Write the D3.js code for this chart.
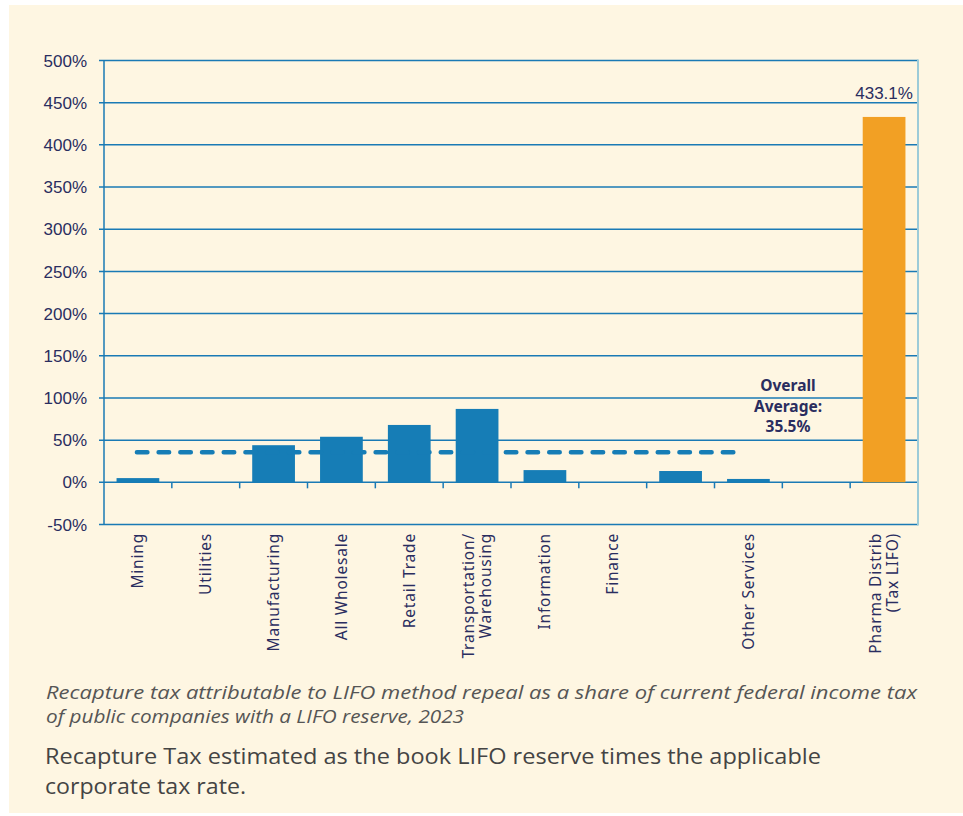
<!DOCTYPE html>
<meta charset="utf-8">
<style>
    body { margin: 0; background: #fff; }
    .grid line { stroke: #1a7ab5; stroke-width: 1.5px; }
    .xlab { font-family: "Noto Sans", sans-serif; font-size: 15.5px; fill: #2a2d5f; }
</style>

<svg width="963" height="816"></svg>

<script src="https://cdn.jsdelivr.net/npm/d3@7/dist/d3.min.js"></script>
<script>
    // bands in order; two bands carry no label in the original
    var categories = ["Mining", "Utilities", "Manufacturing", "All Wholesale", "Retail Trade",
        "Transportation/\nWarehousing", "Information", "Finance", "", "Other Services", "", "Pharma Distrib\n(Tax LIFO)"];
    var values = [5, 0, 44, 54, 68, 87, 14.5, 0, 13.4, 4, 0, 433.1];
    var yTicks = [-50, 0, 50, 100, 150, 200, 250, 300, 350, 400, 450, 500];
    var average = 35.5;
    var avgLabel = ["Overall", "Average:", "35.5%"];
    var caption = ["Recapture tax attributable to LIFO method repeal as a share of current federal income tax",
        "of public companies with a LIFO reserve, 2023"];
    var note = ["Recapture Tax estimated as the book LIFO reserve times the applicable",
        "corporate tax rate."];

    (function () {
        var svg = d3.select("svg"),
            left = 104, right = 918, top = 60.5, bottom = 524.5;

        svg.append("rect")
            .attr("x", 9).attr("y", 5)
            .attr("width", 954).attr("height", 808)
            .attr("fill", "#fef6e2");

        var x = d3.scaleBand()
            .domain(d3.range(categories.length))
            .range([left, right])
            .paddingInner(0.37)
            .paddingOuter(0.185);

        var y = d3.scaleLinear()
            .domain([-50, 500])
            .range([bottom, top]);

        // gridlines + left ticks
        var grid = svg.append("g").attr("class", "grid");
        grid.selectAll("line")
            .data(yTicks)
            .enter()
            .append("line")
            .attr("x1", left - 5)
            .attr("x2", right)
            .attr("y1", function (d) { return y(d); })
            .attr("y2", function (d) { return y(d); });

        grid.append("line")
            .attr("x1", left).attr("x2", left)
            .attr("y1", top).attr("y2", bottom);

        svg.append("line")
            .attr("x1", right).attr("x2", right)
            .attr("y1", top - 1).attr("y2", bottom + 1)
            .attr("stroke", "#9ccbd8")
            .attr("stroke-width", 2);

        svg.append("g")
            .selectAll("text")
            .data(yTicks)
            .enter()
            .append("text")
            .attr("x", 87)
            .attr("y", function (d) { return y(d); })
            .attr("dy", "0.36em")
            .attr("text-anchor", "end")
            .style("font-family", "'Liberation Sans', Arial, sans-serif")
            .style("font-size", "17px")
            .style("fill", "#2a2d5f")
            .text(function (d) { return d + "%"; });

        // category boundary ticks under the 0 line
        var step = x.step();
        svg.append("g")
            .selectAll("line")
            .data(d3.range(1, categories.length))
            .enter()
            .append("line")
            .attr("x1", function (d) { return left + d * step; })
            .attr("x2", function (d) { return left + d * step; })
            .attr("y1", y(0))
            .attr("y2", y(0) + 6)
            .attr("stroke", "#1a7ab5")
            .attr("stroke-width", 1.5);

        // bars
        svg.append("g")
            .selectAll("rect")
            .data(values)
            .enter()
            .append("rect")
            .attr("x", function (d, i) { return x(i); })
            .attr("width", x.bandwidth())
            .attr("y", function (d) { return y(d); })
            .attr("height", function (d) { return y(0) - y(d); })
            .attr("fill", function (d, i) { return i === values.length - 1 ? "#f2a024" : "#167db6"; });

        // value label on the pharma bar
        var last = values.length - 1;
        svg.append("text")
            .attr("x", x(last) + x.bandwidth() / 2)
            .attr("y", y(values[last]) - 18)
            .attr("text-anchor", "middle")
            .style("font-family", "'Liberation Sans', Arial, sans-serif")
            .style("font-size", "17px")
            .style("fill", "#2a2d5f")
            .text(values[last] + "%");

        // average dashed line
        svg.append("line")
            .attr("x1", x(0) + x.bandwidth() / 2 - 1)
            .attr("x2", x(9) + x.bandwidth() / 2 - 5)
            .attr("y1", y(average))
            .attr("y2", y(average))
            .attr("stroke", "#167db6")
            .attr("stroke-width", 4.5)
            .attr("stroke-linecap", "round")
            .attr("stroke-dasharray", "10.5 11.2");

        var ann = svg.append("text")
            .attr("text-anchor", "middle")
            .style("font-family", "'Noto Sans', sans-serif")
            .style("font-weight", "bold")
            .style("font-size", "15.5px")
            .style("fill", "#2a2d5f");
        ann.selectAll("tspan")
            .data(avgLabel)
            .enter()
            .append("tspan")
            .attr("x", 788)
            .attr("y", function (d, i) { return 391 + i * 20.5; })
            .text(function (d) { return d; });

        // rotated category labels
        var labels = svg.append("g")
            .selectAll("text")
            .data(categories)
            .enter()
            .append("text")
            .attr("class", "xlab")
            .attr("text-anchor", "end")
            .style("letter-spacing", "0.8px")
            .attr("transform", function (d, i) {
                return "translate(" + (x(i) + x.bandwidth() / 2) + "," + 533 + ") rotate(-90)";
            });
        labels.each(function (d) {
            var lines = d.split("\n"),
                t = d3.select(this);
            lines.forEach(function (s, j) {
                t.append("tspan")
                    .attr("x", 0)
                    .attr("y", (j - (lines.length - 1) / 2) * 17.5)
                    .attr("dy", "0.35em")
                    .text(s);
            });
        });

        // caption and note
        var capWidths = [871, 418];
        svg.append("g")
            .selectAll("text")
            .data(caption)
            .enter()
            .append("text")
            .attr("x", 46)
            .attr("y", function (d, i) { return 698.5 + i * 24; })
            .attr("textLength", function (d, i) { return capWidths[i]; })
            .attr("lengthAdjust", "spacingAndGlyphs")
            .style("font-family", "'Open Sans', sans-serif")
            .style("font-style", "italic")
            .style("font-size", "17.5px")
            .style("fill", "#555")
            .text(function (d) { return d; });

        var noteWidths = [776, 201];
        svg.append("g")
            .selectAll("text")
            .data(note)
            .enter()
            .append("text")
            .attr("x", 45)
            .attr("y", function (d, i) { return 764 + i * 30; })
            .attr("textLength", function (d, i) { return noteWidths[i]; })
            .attr("lengthAdjust", "spacingAndGlyphs")
            .style("font-family", "'Open Sans', sans-serif")
            .style("font-size", "22px")
            .style("fill", "#444")
            .text(function (d) { return d; });
    })();
</script>
